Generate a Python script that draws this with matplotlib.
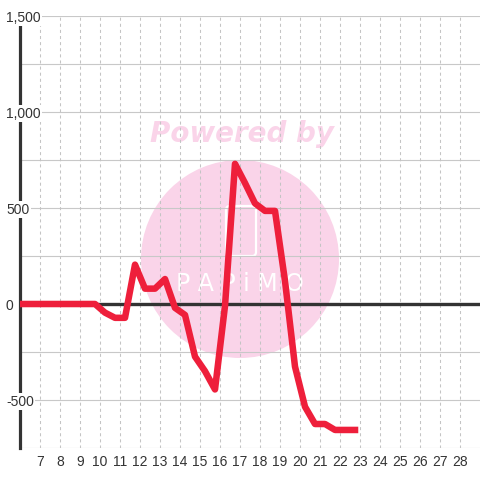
import matplotlib
matplotlib.use("Agg")
import matplotlib.pyplot as plt
from matplotlib.patches import Circle, FancyBboxPatch

# ---- data ----
x_vals = [5.75, 6.25, 6.75, 7.25, 7.75, 8.25, 8.75, 9.25, 9.75,
          10.25, 10.75, 11.25, 11.75, 12.25, 12.75, 13.25, 13.75,
          14.25, 14.75, 15.25, 15.75, 16.25, 16.75, 17.25, 17.75,
          18.25, 18.75, 19.25, 19.75, 20.25, 20.75, 21.25, 21.75,
          22.25, 22.75]
y_vals = [0, 0, 0, 0, 0, 0, 0, 0, 0,
          -45, -72, -72, 205, 80, 80, 130, -20,
          -57, -274, -350, -445, -10, 730, 630, 524,
          485, 485, 120, -326, -535, -625, -625, -656,
          -656, -656]
x_ticks = list(range(7, 29))
x_tick_labels = [str(v) for v in x_ticks]
y_ticks = [-500, 0, 500, 1000, 1500]
y_tick_labels = ["-500", "0", "500", "1,000", "1,500"]
y_grid = [-750, -500, -250, 0, 250, 500, 750, 1000, 1250, 1500]

plt.rcParams["font.family"] = ["Liberation Sans", "DejaVu Sans"]
plt.rcParams["lines.scale_dashes"] = False

fig = plt.figure(figsize=(4.8, 4.8), dpi=100, facecolor="white")
ax = fig.add_axes([20 / 480, 32 / 480, 460 / 480, 432 / 480])
ax.set_xlim(6, 29)
ax.set_ylim(-750, 1500)
ax.set_facecolor("white")

# watermark
pink = "#fad4e9"
ax.add_patch(Circle((2.40, 2.21), 0.99, transform=fig.dpi_scale_trans,
                    facecolor=pink, edgecolor="none", zorder=0.2, clip_on=False))
ax.add_patch(FancyBboxPatch((2.26, 2.24), 0.30, 0.50,
                            boxstyle="round,pad=0.0,rounding_size=0.04",
                            transform=fig.dpi_scale_trans, facecolor="none",
                            edgecolor="white", lw=1.6, zorder=0.3, clip_on=False))
ax.text(2.40, 1.96, "P A P i M O", transform=fig.dpi_scale_trans,
        ha="center", va="center", fontsize=17, color="white",
        family="DejaVu Sans", zorder=0.3)
ax.text(2.415, 3.46, "Powered by", transform=fig.dpi_scale_trans,
        ha="center", va="center", fontsize=20, color=pink,
        family="DejaVu Sans", fontweight="bold", fontstyle="italic", zorder=0.3)

# grid
for gv in y_grid:
    ax.axhline(gv, color="#c8c8c8", lw=0.8, zorder=1)
ax.set_xticks(x_ticks)
ax.set_xticklabels(x_tick_labels)
ax.grid(axis="x", color="#c4c4c4", lw=0.75, linestyle=(0, (2.2, 2.2)))
ax.grid(axis="y", visible=False)

# spines
for s in ["top", "right", "bottom"]:
    ax.spines[s].set_visible(False)
ax.spines["left"].set_color("#333333")
ax.spines["left"].set_linewidth(2.3)
ax.spines["left"].set_bounds(-750, 1458)

# ticks
ax.set_yticks(y_ticks)
ax.set_yticklabels(y_tick_labels)
ax.tick_params(axis="x", length=0, pad=5, labelsize=10, labelcolor="#333333")
ax.tick_params(axis="y", length=0, pad=10.1, labelsize=10, labelcolor="#333333")
for lab in ax.get_yticklabels():
    lab.set_horizontalalignment("left")
    lab.set_bbox(dict(facecolor="white", edgecolor="none", pad=1.0))
ax.yaxis.set_zorder(10)

# zero line and data line
ax.axhline(0, color="#333333", lw=2.4, zorder=3)
ax.plot(x_vals, y_vals, color="#ee1f3b", lw=4.7, solid_joinstyle="round",
        solid_capstyle="projecting", zorder=4)

fig.savefig("out.png", dpi=100, facecolor="white")
